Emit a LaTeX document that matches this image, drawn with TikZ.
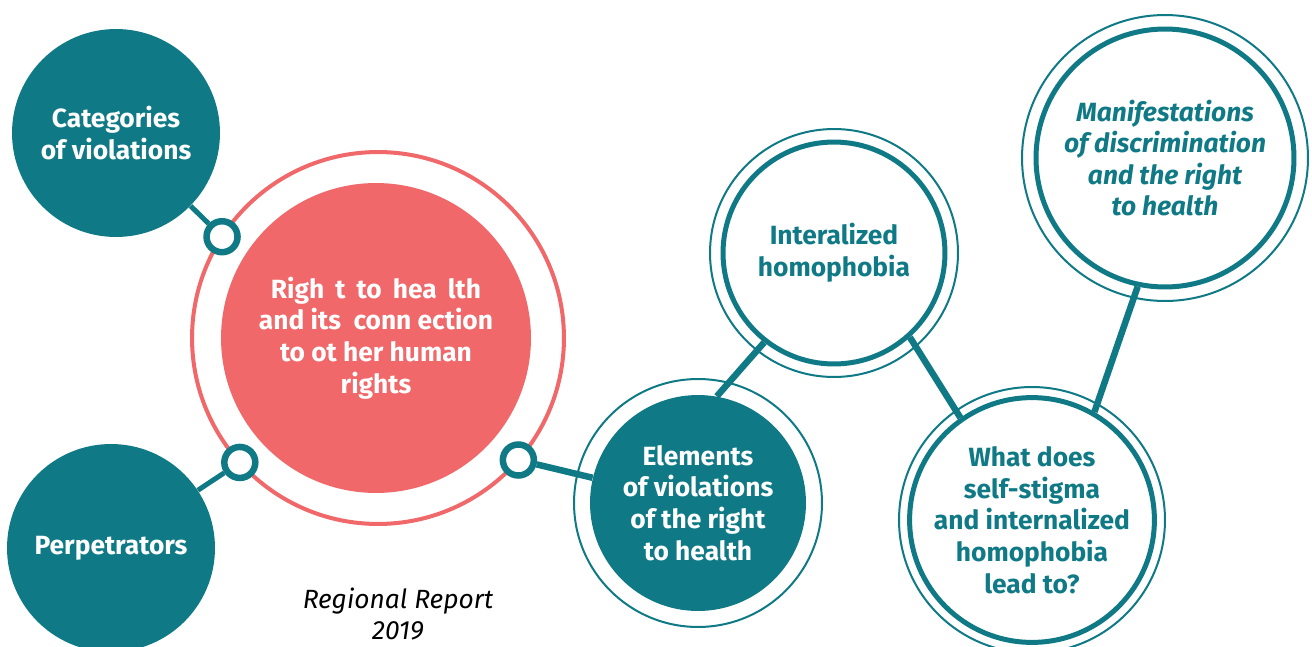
\documentclass[tikz,border=0pt]{standalone}
\usepackage{fontspec}
\setmainfont{Fira Sans}
\definecolor{petrol}{HTML}{0F7A86}
\definecolor{coral}{HTML}{F0686A}

\tikzset{
  bubble text/.style={font=\bfseries\fontsize{15}{18}\selectfont, align=center},
  disc/.style={circle, fill=petrol, text=white, inner sep=0pt, minimum size=#1, bubble text},
  hollow/.style={circle, draw=petrol, line width=0.1cm, fill=white, text=petrol, inner sep=0pt, minimum size=#1, bubble text},
  halo/.style={draw=petrol, line width=0.04cm},
  knob/.style={circle, draw=petrol, line width=0.13cm, fill=white, inner sep=0pt, minimum size=0.62cm},
  link/.style={draw=petrol, line width=0.13cm},
  thin link/.style={draw=petrol, line width=0.1cm}
}

\begin{document}
\begin{tikzpicture}[x=0.02cm, y=-0.02cm]
    \clip (0,0) rectangle (1312,646);
    \fill [white] (0,0) rectangle (1312,646);

    % centre
    \node[circle, draw=coral, line width=0.08cm, inner sep=0pt, outer sep=0pt, minimum size=7.44cm] (ring) at (378,338) {};
    \node[circle, fill=coral, text=white, inner sep=0pt, minimum size=6.2cm, bubble text] (health) at (376,338)
      {\spaceskip=0.42em\relax Righ t to hea lth\\and its\ \ conn ection\\to ot her human\\rights};
    \node[knob] (k1) at (ring.147) {};
    \node[knob] (k2) at (ring.222) {};
    \node[knob] (k3) at (ring.319) {};

    % left
    \node[disc=4.16cm] (cat) at (116,133) {Categories\\of violations};
    \node[disc=4.16cm] (perp) at (111,548) {Perpetrators};

    % right
    \node[disc=4.32cm] (elem) at (698,503) {Elements\\of violations\\of the right\\to health};
    \draw[halo] (elem) circle[radius=2.48cm];
    \node[hollow=4.44cm] (int) at (834,253) {Interalized\\homophobia};
    \draw[halo] (int) circle[radius=2.48cm];
    \node[hollow=4.76cm] (what) at (1032,520) {What does\\self-stigma\\and internalized\\homophobia\\lead to?};
    \draw[halo] (what) circle[radius=2.66cm];
    \node[hollow=5.16cm, font=\bfseries\itshape\fontsize{15}{18}\selectfont] (manif) at (1165,158)
      {Manifestations\\of discrimination\\and the right\\to health};
    \draw[halo] (manif) circle[radius=2.86cm];

    \node[font=\itshape\fontsize{15}{18}\selectfont, align=center] (report) at (398,614) {Regional Report\\2019};

    % links
    \draw[thin link] (cat) -- (k1);
    \draw[thin link] (perp) -- (k2);
    \draw[link] (k3) -- (elem);
    \draw[link] (elem.80) -- (int.232);
    \draw[link] (int.-48) -- (what.125);
    \draw[link] (what.60) -- (manif.258);
\end{tikzpicture}
\end{document}
